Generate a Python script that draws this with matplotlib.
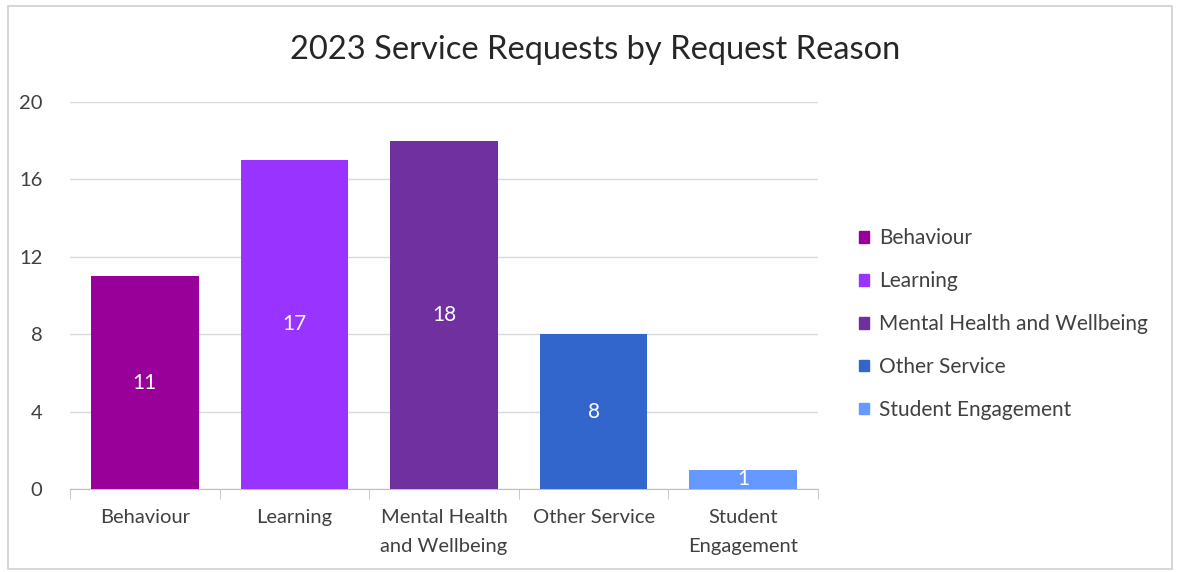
import matplotlib.pyplot as plt
from matplotlib.patches import Rectangle, Patch

categories = ["Behaviour", "Learning", "Mental Health\nand Wellbeing", "Other Service", "Student\nEngagement"]
legend_names = ["Behaviour", "Learning", "Mental Health and Wellbeing", "Other Service", "Student Engagement"]
counts = [11, 17, 18, 8, 1]
colors = ["#990099", "#9933FF", "#7030A0", "#3366CC", "#6699FF"]

plt.rcParams['font.family'] = ['Lato', 'DejaVu Sans']

fig = plt.figure(figsize=(11.77, 5.72), dpi=100)
ax = fig.add_axes([0.0595, 0.145, 0.6355, 0.677])

x = range(len(counts))
bars = ax.bar(x, counts, width=0.72, color=colors, zorder=3)
for b, v in zip(bars, counts):
    ax.text(b.get_x() + b.get_width() / 2, v / 2, str(v), ha='center', va='center',
            color='white', fontsize=15, zorder=4)

ax.set_xlim(-0.5, len(counts) - 0.5)
ax.set_ylim(0, 20)
ax.set_yticks([0, 4, 8, 12, 16, 20])
ax.grid(axis='y', color='#d9d9d9', linewidth=1, zorder=0)
ax.set_xticks(list(x))
ax.set_xticklabels(categories, fontsize=14.5, color='#404040', linespacing=1.9)
ax.tick_params(axis='x', length=0, pad=14)
ax.tick_params(axis='y', length=0, labelsize=14.5, labelcolor='#404040', pad=20)
ax.set_xticks([i - 0.5 for i in range(len(counts) + 1)], minor=True)
ax.tick_params(axis='x', which='minor', length=7, color='#bfbfbf', direction='out')
for s in ['top', 'right', 'left']:
    ax.spines[s].set_visible(False)
ax.spines['bottom'].set_color('#bfbfbf')

fig.text(0.506, 0.912, "2023 Service Requests by Request Reason", ha='center', va='center',
         fontsize=23.5, color='#262626')

handles = [Patch(color=c) for c in colors]
fig.legend(handles, legend_names, loc='center left', bbox_to_anchor=(0.714, 0.433),
           frameon=False, fontsize=15, handlelength=0.45, handleheight=0.45,
           labelspacing=1.1, handletextpad=0.5, labelcolor='#404040')

fig.patches.append(Rectangle((0.007, 0.005), 0.989, 0.985, transform=fig.transFigure,
                             fill=False, edgecolor='#d0d0d0', linewidth=1.2))

fig.savefig("out.png", dpi=100)
